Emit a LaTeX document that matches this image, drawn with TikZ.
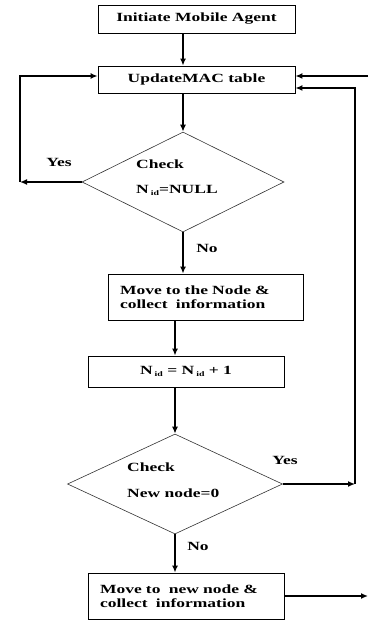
\documentclass[tikz,border=0pt]{standalone}
\usepackage{fontspec}
\setmainfont{Liberation Serif}[FakeStretch=1.4]
\usetikzlibrary{shapes.geometric,arrows.meta}
\newcommand{\nid}{N\,\raisebox{-0.4ex}{\scriptsize id}}
\begin{document}
\begin{tikzpicture}[x=1pt,y=-1pt,>={Latex[length=7pt,width=6pt]},font=\bfseries\fontsize{12.5}{14}\selectfont]
              \tikzstyle{every node}+=[inner sep=0pt]
              \tikzstyle{box}=[draw,rectangle,line width=0.8pt]
              \tikzstyle{cond}=[draw=black!80,diamond,line width=0.6pt]
              \tikzstyle{flow}=[->,line width=2pt]
              \useasboundingbox (0,0) rectangle (368,620);
              \node [box,minimum width=197pt,minimum height=28pt] (init) at (196.5,19) {Initiate Mobile Agent};
              \node [box,minimum width=197pt,minimum height=27pt] (update) at (196.5,79.5) {UpdateMAC table};
              \node [cond,minimum width=202pt,minimum height=100pt] (d1) at (183,182) {};
              \node [align=left,anchor=west] (t1) at (136,177.5) {Check\\[11pt]\nid=NULL};
              \node [box,minimum width=195pt,minimum height=46pt,text width=171pt,align=left] (move1) at (205.5,297) {Move to the Node \&\\collect~ information};
              \node [box,minimum width=196pt,minimum height=31pt] (count) at (186,371.5) {\nid{} = \nid{} + 1};
              \node [cond,minimum width=215pt,minimum height=100pt] (d2) at (175,484) {};
              \node [align=left,anchor=west] (t2) at (127,480) {Check\\[12pt]New node=0};
              \node [box,minimum width=196pt,minimum height=46pt,text width=172pt,align=left] (move2) at (186,596) {Move to~ new node \&\\collect~ information};
              \node (yes1) at (59,162) {Yes};
              \node (no1) at (207,248) {No};
              \node (yes2) at (285,460) {Yes};
              \node (no2) at (198,546) {No};
              \coordinate (l1) at (20,182);
              \coordinate (l2) at (20,76);
              \coordinate (r1) at (355,484);
              \coordinate (r2) at (355,88);
              \coordinate (e1) at (368,76);
              \coordinate (e2) at (368,596);
              \draw [flow] (d1.north |- init.south) -- (d1.north |- update.north);
              \draw [flow] (update.south -| d1.north) -- (d1.north);
              \draw [flow] (d1.south) -- (d1.south |- move1.north);
              \draw [flow] (d2.north |- move1.south) -- (d2.north |- count.north);
              \draw [flow] (count.south -| d2.north) -- (d2.north);
              \draw [flow] (d2.south) -- (d2.south |- move2.north);
              \draw [flow] (d1.west) -- (l1);
              \draw [flow] (l1) -- (l2) -- (l2 -| update.west);
              \draw [flow] (d2.east) -- (r1);
              \draw [flow] (r1) -- (r2) -- (r2 -| update.east);
              \draw [flow] (e1) -- (e1 -| update.east);
              \draw [flow] (move2.east) -- (e2);
            \end{tikzpicture}
\end{document}
